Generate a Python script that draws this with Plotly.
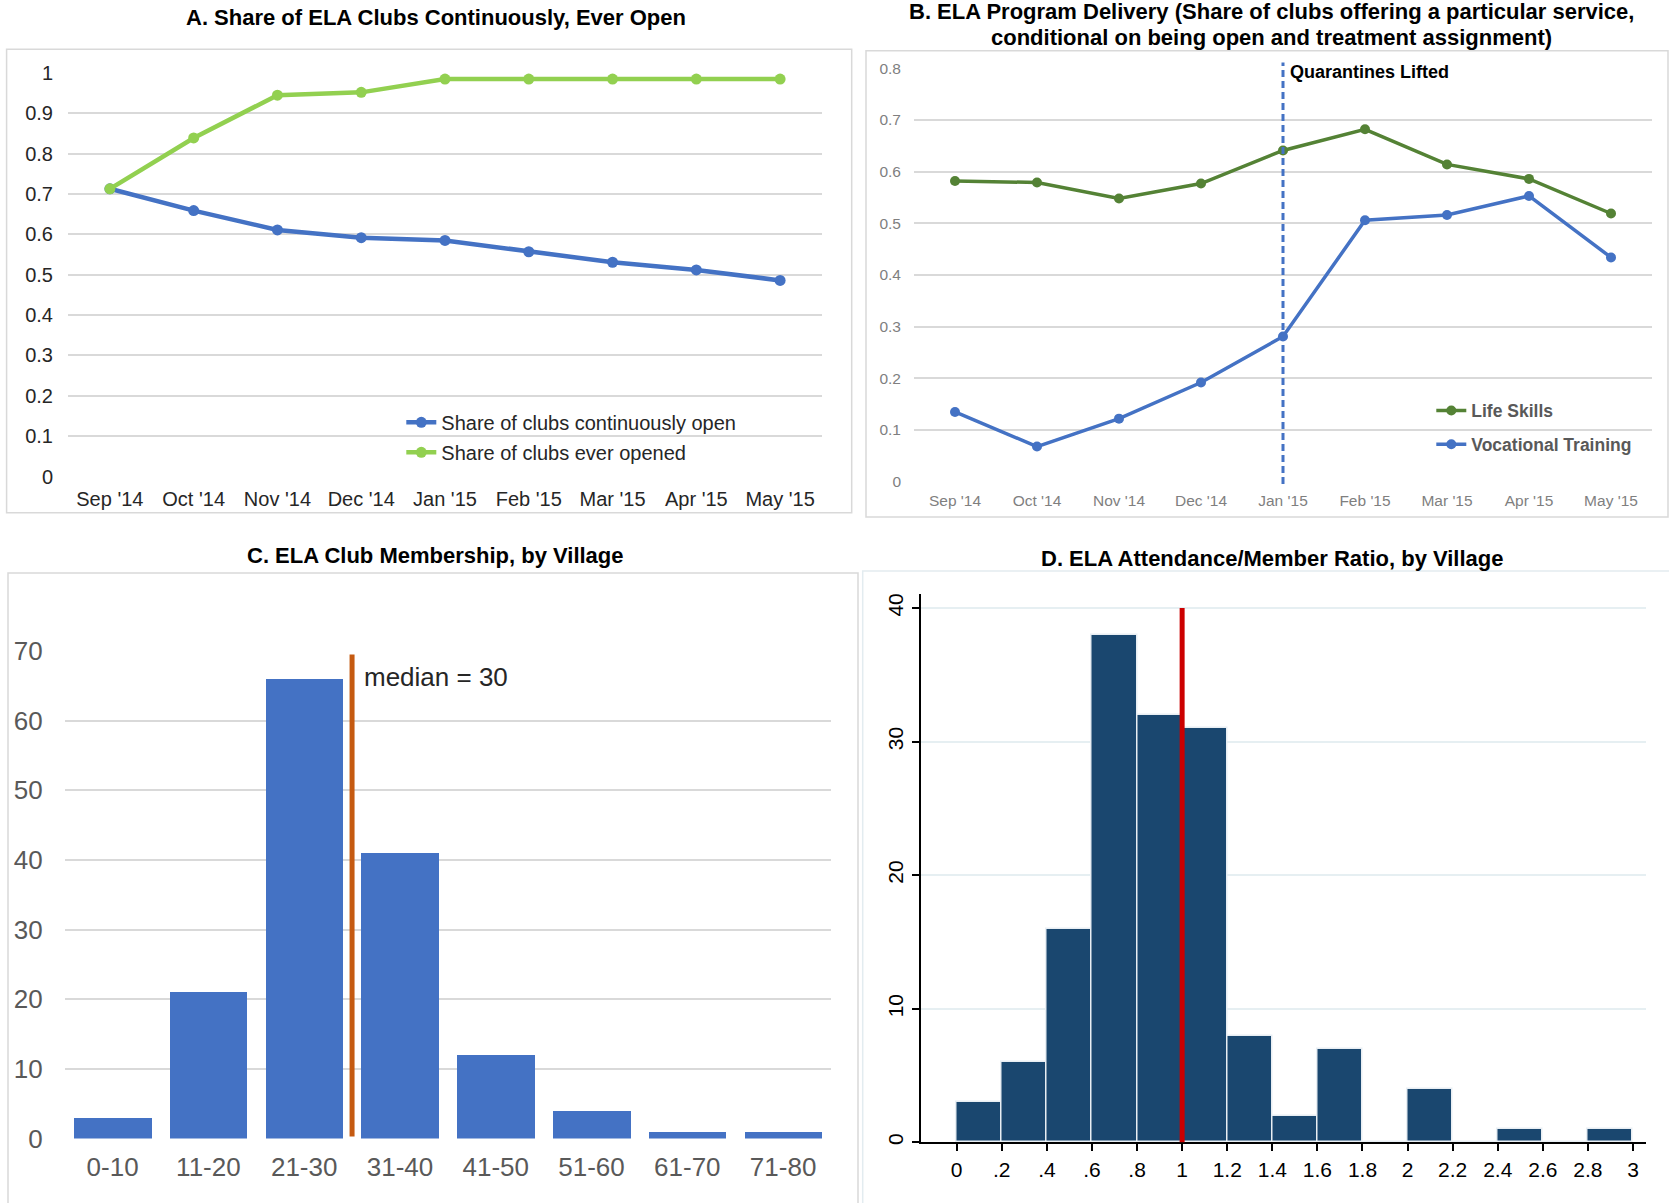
import plotly.graph_objects as go

# ---------------- data ----------------
months = ["Sep '14", "Oct '14", "Nov '14", "Dec '14", "Jan '15",
          "Feb '15", "Mar '15", "Apr '15", "May '15"]

# Panel A: share of clubs open
continuously_open = [0.713, 0.659, 0.611, 0.592, 0.585, 0.557, 0.531, 0.512, 0.486]
ever_opened = [0.713, 0.839, 0.945, 0.952, 0.985, 0.985, 0.985, 0.985, 0.985]

# Panel B: program delivery
life_skills = [0.582, 0.579, 0.548, 0.577, 0.641, 0.682, 0.614, 0.586, 0.519]
vocational = [0.135, 0.068, 0.122, 0.192, 0.281, 0.506, 0.516, 0.553, 0.434]
quarantine_month = "Jan '15"

# Panel C: club membership by village
member_bins = ["0-10", "11-20", "21-30", "31-40", "41-50", "51-60", "61-70", "71-80"]
member_counts = [3, 21, 66, 41, 12, 4, 1, 1]
median_members = 30

# Panel D: attendance / member ratio histogram (bin width 0.2)
ratio_edges = [0.0, 0.2, 0.4, 0.6, 0.8, 1.0, 1.2, 1.4, 1.6, 1.8, 2.0, 2.2, 2.4, 2.6, 2.8, 3.0]
ratio_counts = [3, 6, 16, 38, 32, 31, 8, 2, 7, 0, 4, 0, 1, 0, 1]
ratio_marker = 1.0
ratio_ticks = [0, 0.2, 0.4, 0.6, 0.8, 1.0, 1.2, 1.4, 1.6, 1.8, 2.0, 2.2, 2.4, 2.6, 2.8, 3.0]
ratio_ticktext = ["0", ".2", ".4", ".6", ".8", "1", "1.2", "1.4", "1.6", "1.8",
                  "2", "2.2", "2.4", "2.6", "2.8", "3"]

# ---------------- layout helpers ----------------
W, H = 1669, 1203
FONT = "Arial, 'Liberation Sans', sans-serif"


def px_x(v):
    return v / W


def px_y(v):
    return 1 - v / H


BLUE = "#4472C4"
GREEN_LIGHT = "#92D050"
GREEN_DARK = "#548235"
GRID = "#D9D9D9"
NAVY = "#1A476F"

fig = go.Figure()

# Panel A lines
fig.add_trace(go.Scatter(
    x=months, y=continuously_open, mode="lines+markers",
    name="Share of clubs continuously open",
    line=dict(color=BLUE, width=4.5), marker=dict(size=11, color=BLUE),
    xaxis="x", yaxis="y", legend="legend", legendgroup="a1"))
fig.add_trace(go.Scatter(
    x=months, y=ever_opened, mode="lines+markers",
    name="Share of clubs ever opened",
    line=dict(color=GREEN_LIGHT, width=4.5), marker=dict(size=11, color=GREEN_LIGHT),
    xaxis="x", yaxis="y", legend="legend", legendgroup="a2"))

# Panel B lines
fig.add_trace(go.Scatter(
    x=months, y=life_skills, mode="lines+markers", name="Life Skills",
    line=dict(color=GREEN_DARK, width=3.5), marker=dict(size=10, color=GREEN_DARK),
    xaxis="x2", yaxis="y2", legend="legend2", legendgroup="b1"))
fig.add_trace(go.Scatter(
    x=months, y=vocational, mode="lines+markers", name="Vocational Training",
    line=dict(color=BLUE, width=3.5), marker=dict(size=10, color=BLUE),
    xaxis="x2", yaxis="y2", legend="legend2", legendgroup="b2"))

# Panel C bars
fig.add_trace(go.Bar(
    x=list(range(len(member_bins))), y=member_counts, width=0.81,
    marker=dict(color=BLUE, line=dict(width=0)),
    xaxis="x3", yaxis="y3", showlegend=False))

# Panel D histogram
centers = [(a + b) / 2 for a, b in zip(ratio_edges[:-1], ratio_edges[1:])]
widths = [b - a for a, b in zip(ratio_edges[:-1], ratio_edges[1:])]
fig.add_trace(go.Bar(
    x=centers, y=ratio_counts, width=widths,
    marker=dict(color=NAVY, line=dict(color="#E8EEF3", width=1.5)),
    xaxis="x4", yaxis="y4", showlegend=False))

# ---------------- axes ----------------
axis_font_a = dict(family=FONT, size=20, color="#262626")
axis_font_b = dict(family=FONT, size=15.5, color="#7F7F7F")
axis_font_c = dict(family=FONT, size=26, color="#595959")
axis_font_d = dict(family=FONT, size=21, color="#000000")

fig.update_layout(
    width=W, height=H, autosize=False, margin=dict(l=0, r=0, t=0, b=0, autoexpand=False),
    paper_bgcolor="white", plot_bgcolor="white",
    font=dict(family=FONT),
    bargap=0,
    # A
    xaxis=dict(domain=[px_x(68), px_x(822)], anchor="y", type="category",
               range=[-0.5, 8.5], showgrid=False, showline=False, ticks="",
               tickfont=axis_font_a, ticklabelstandoff=8, automargin=False),
    yaxis=dict(domain=[px_y(476.5), px_y(73)], anchor="x", range=[0, 1],
               dtick=0.1, showgrid=True, gridcolor=GRID, gridwidth=2,
               zeroline=False, showline=False, ticks="",
               tickfont=axis_font_a, ticklabelstandoff=14, automargin=False),
    # B
    xaxis2=dict(domain=[px_x(914), px_x(1652)], anchor="y2", type="category",
                range=[-0.5, 8.5], showgrid=False, showline=False, ticks="",
                tickfont=axis_font_b, ticklabelstandoff=8, automargin=False),
    yaxis2=dict(domain=[px_y(481.7), px_y(68.3)], anchor="x2", range=[0, 0.8],
                dtick=0.1, showgrid=True, gridcolor=GRID, gridwidth=2,
                zeroline=False, showline=False, ticks="",
                tickfont=axis_font_b, ticklabelstandoff=12, automargin=False),
    # C
    xaxis3=dict(domain=[px_x(64.7), px_x(831)], anchor="y3",
                range=[-0.5, len(member_bins) - 0.5],
                tickvals=list(range(len(member_bins))), ticktext=member_bins,
                showgrid=False, showline=False, zeroline=False, ticks="",
                tickfont=axis_font_c, ticklabelstandoff=10, automargin=False),
    yaxis3=dict(domain=[px_y(1138.6), px_y(651)], anchor="x3", range=[0, 70],
                dtick=10, showgrid=True, gridcolor=GRID, gridwidth=2,
                zeroline=False, showline=False, ticks="",
                tickfont=axis_font_c, ticklabelstandoff=21, automargin=False),
    # D
    xaxis4=dict(domain=[px_x(920.5), px_x(1646)], anchor="y4",
                range=[-0.1606, 3.0577], tickvals=ratio_ticks, ticktext=ratio_ticktext,
                showgrid=False, zeroline=False, showline=True, linecolor="black",
                linewidth=2, ticks="outside", ticklen=7, tickwidth=1.5,
                tickcolor="black", tickfont=axis_font_d, ticklabelstandoff=0,
                automargin=False),
    yaxis4=dict(domain=[px_y(1142.4), px_y(594)], anchor="x4", range=[0, 41.05],
                tickvals=[0, 10, 20, 30, 40], tickangle=-90,
                showgrid=True, gridcolor="#E6EFF2", gridwidth=1.5,
                zeroline=False, showline=True, linecolor="black", linewidth=2,
                ticks="outside", ticklen=7, tickwidth=1.5, tickcolor="black",
                tickfont=axis_font_d, ticklabelstandoff=0, automargin=False),
    legend=dict(x=px_x(401.3), y=px_y(402.8), xanchor="left", yanchor="top",
                bgcolor="rgba(0,0,0,0)", traceorder="grouped", tracegroupgap=1,
                font=dict(family=FONT, size=20, color="#262626")),
    legend2=dict(x=px_x(1431.3), y=px_y(392.7), xanchor="left", yanchor="top",
                 bgcolor="rgba(0,0,0,0)", traceorder="grouped", tracegroupgap=8,
                 font=dict(family=FONT, size=17.5, color="#595959", weight="bold")),
)

# ---------------- panel frames ----------------
frames = [
    (6.6, 49.3, 851.7, 512.7, GRID),
    (866, 50.7, 1668, 517, GRID),
    (8, 573, 858, 1215, GRID),
    (862.7, 571, 1680, 1215, "#E3ECF0"),
]
for x0, y0, x1, y1, col in frames:
    fig.add_shape(type="rect", xref="paper", yref="paper",
                  x0=px_x(x0), x1=px_x(x1), y0=px_y(y1), y1=px_y(y0),
                  line=dict(color=col, width=1.5), fillcolor="rgba(0,0,0,0)",
                  layer="below")

# Quarantine marker (panel B)
q_idx = months.index(quarantine_month)
fig.add_shape(type="line", xref="x2", yref="paper",
              x0=q_idx, x1=q_idx, y0=px_y(484), y1=px_y(62.5),
              line=dict(color=BLUE, width=3, dash="7px,4px"))
fig.add_annotation(xref="x2", yref="paper", x=q_idx, y=px_y(72.3),
                   xanchor="left", yanchor="middle", xshift=5, showarrow=False,
                   text="Quarantines Lifted",
                   font=dict(family=FONT, size=18, color="black", weight="bold"))

# Median line (panel C): bins are 10 wide, so the median sits on a bin boundary
median_pos = median_members / 10 - 0.5
fig.add_shape(type="line", xref="x3", yref="y3",
              x0=median_pos, x1=median_pos, y0=0.3, y1=69.5,
              line=dict(color="#C55A11", width=5))
fig.add_annotation(xref="x3", yref="y3", x=median_pos, y=66.3,
                   xanchor="left", yanchor="middle", xshift=10, showarrow=False,
                   text=f"median = {median_members}",
                   font=dict(family=FONT, size=26, color="#262626"))

# Reference line at ratio 1 (panel D)
fig.add_shape(type="line", xref="x4", yref="y4",
              x0=ratio_marker, x1=ratio_marker, y0=0, y1=40,
              line=dict(color="#CC0000", width=5))

# ---------------- titles ----------------
title_font = dict(family=FONT, size=22, color="black", weight="bold")
titles = [
    (436, 18, "A. Share of ELA Clubs Continuously, Ever Open"),
    (1271, 11, "B. ELA Program Delivery (Share of clubs offering a particular service,"),
    (1271, 37, "conditional on being open and treatment assignment)"),
    (435, 556, "C. ELA Club Membership, by Village"),
    (1272, 558, "D. ELA Attendance/Member Ratio, by Village"),
]
for cx, cy, txt in titles:
    fig.add_annotation(xref="paper", yref="paper", x=px_x(cx), y=px_y(cy),
                       xanchor="center", yanchor="middle", showarrow=False,
                       text=txt, font=title_font)

fig.write_html("out.html")
